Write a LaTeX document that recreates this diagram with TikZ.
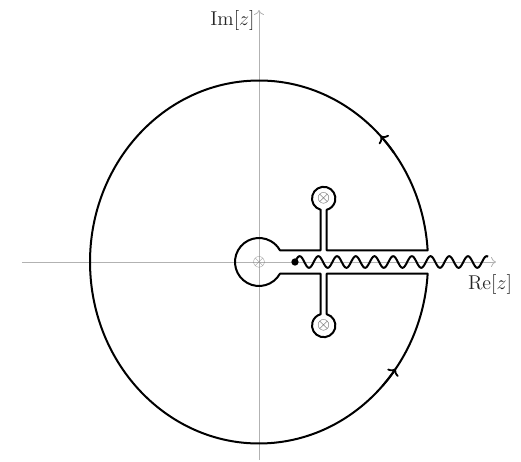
\documentclass[tikz,border=0pt]{standalone}
\usetikzlibrary{arrows.meta}
\begin{document}
\begin{tikzpicture}[x=0.6pt,y=0.6pt,
  axis/.style={gray!60, line width=0.5pt, -{To[length=3pt,width=6pt]}},
  contour/.style={line width=1.2pt, line join=round},
  flow/.style={line width=1.2pt, -{Computer Modern Rightarrow[length=3.5pt,width=8pt,line width=1.1pt]}},
  pole/.style={inner sep=0pt, font=\normalsize},
  lbl/.style={text=black!85, font=\large, inner sep=0pt}]
\useasboundingbox (-259,-200) rectangle (262,262);
% axes
\coordinate (xl) at (-237,0);
\coordinate (xr) at (237,0);
\coordinate (yb) at (0,-198);
\coordinate (yt) at (0,252);
\draw[axis] (xl) -- (xr);
\draw[axis] (yb) -- (yt);
\node[lbl, anchor=east] (im) at (-4,242) {$\mathrm{Im}[z]$};
\node[lbl] (re) at (231,-22) {$\mathrm{Re}[z]$};
% poles
\node[pole, text=gray] (p0) at (0,0) {$\otimes$};
\node[pole, text=black!80] (p1) at (64.7,63.5) {$\otimes$};
\node[pole, text=black!80] (p2) at (64.7,-63.5) {$\otimes$};
% contour
\draw[contour] (168.65,11.7)
  arc[start angle=3.696, end angle=356.304, x radius=169, y radius=181.5]
  -- (67.7,-11.7) -- (67.7,-52.19)
  arc[start angle=75.15, end angle=-255.15, radius=11.7]
  -- (61.7,-11.7) -- (20.95,-11.7)
  arc[start angle=-29.18, end angle=-330.82, radius=24]
  -- (61.7,11.7) -- (61.7,52.19)
  arc[start angle=255.15, end angle=-75.15, radius=11.7]
  -- (67.7,11.7) -- cycle;
% direction marks
\draw[flow] (37:169 and 181.5) arc[start angle=37, end angle=44, x radius=169, y radius=181.5];
\draw[flow] (-43:169 and 181.5) arc[start angle=-43, end angle=-36, x radius=169, y radius=181.5];
% branch cut
\node[circle, fill, inner sep=0pt, minimum size=4.4pt] (dot) at (36,0) {};
\draw[line width=1.2pt, line join=round] plot[domain=36:229, samples=300, smooth] (\x, {5.8*sin((\x-36)/18.7*360)});
\end{tikzpicture}
\end{document}
